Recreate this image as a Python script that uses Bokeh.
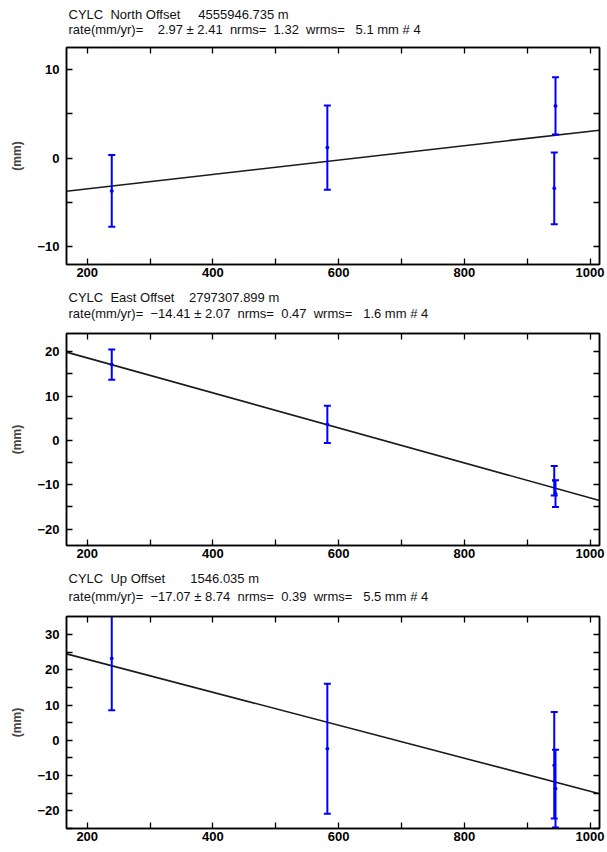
from bokeh.plotting import figure
from bokeh.layouts import column
from bokeh.models import Range1d, LinearAxis, FixedTicker
from bokeh.core.properties import value
from bokeh.embed import file_html
from bokeh.resources import INLINE

NB = "\u00a0"

# ---------------- data ----------------
title_line1 = ["CYLC  North Offset     4555946.735 m",
               "CYLC  East Offset    2797307.899 m",
               "CYLC  Up Offset       1546.035 m"]
rates = [2.97, -14.41, -17.07]          # mm/yr
rate_sig = [2.41, 2.07, 8.74]
nrms = [1.32, 0.47, 0.39]
wrms = [5.1, 1.6, 5.5]
n_obs = [4, 4, 4]
fit_at_600 = [-0.21, 2.82, 4.27]        # fitted value (mm) at day 600

days_north = [239, 582, 945, 943]
north_mm = [-3.7, 1.2, 5.9, -3.4]
north_sig = [4.05, 4.75, 3.23, 4.05]

days_east = [239, 582, 943, 945]
east_mm = [17.1, 3.6, -9.1, -12.0]
east_sig = [3.4, 4.2, 3.3, 3.0]

days_up = [239, 582, 943, 945]
up_mm = [23.2, -2.4, -7.1, -13.7]
up_sig = [14.7, 18.4, 15.1, 11.0]

x_ticks = [200, 400, 600, 800, 1000]
x_minor = [300, 500, 700, 900]
x_lo, x_hi = 167, 1015
y_lo = [-12.0, -23.7, -25.0]
y_hi = [12.5, 24.1, 35.1]
y_ticks = [[-10, 0, 10], [-20, -10, 0, 10, 20], [-20, -10, 0, 10, 20, 30]]
y_minor = [[-5, 5], [-15, -5, 5, 15], [-25, -15, -5, 5, 15, 25]]

series = [(days_north, north_mm, north_sig),
          (days_east, east_mm, east_sig),
          (days_up, up_mm, up_sig)]

# layout per panel: header height, header line y (px from header bottom),
# plot height, plot border top, plot border bottom
geom = [(40, (26, 11), 245, 7, 21),
        (41, (29, 13), 241, 7, 22),
        (42, (31, 13), 243, 7, 24)]

FONT = "Liberation Sans"
BLUE = "#0000ff"


def nb(s):
    return s.replace(" ", NB)


def style_axis(ax, show_labels):
    ax.major_tick_in = 6
    ax.major_tick_out = 0
    ax.minor_tick_in = 6
    ax.minor_tick_out = 0
    ax.axis_line_color = "black"
    ax.axis_line_width = 1.5
    ax.major_tick_line_color = "black"
    ax.minor_tick_line_color = "black"
    ax.major_tick_line_width = 1.3
    ax.minor_tick_line_width = 1.3
    ax.major_label_text_font = FONT
    ax.major_label_text_font_style = "bold"
    if show_labels:
        ax.major_label_text_color = "black"
        ax.major_label_text_font_size = "13px"
    else:
        ax.major_label_text_color = None
        ax.major_label_text_font_size = "0px"
        ax.major_label_standoff = 0


items = []
for i in range(3):
    xs, ys, sg = series[i]
    hh, ly, h, bt, bb = geom[i]

    # ---- header with the two title lines (frame aligned with the plot's) ----
    line2 = "rate(mm/yr)= %7.2f ± %.2f  nrms= %5.2f  wrms= %5.1f mm # %d" % (
        rates[i], rate_sig[i], nrms[i], wrms[i], n_obs[i])
    line2 = line2.replace("-", "\u2212")
    hd = figure(width=607, height=hh, x_range=Range1d(x_lo, x_hi),
                y_range=Range1d(0, hh), x_axis_type=None, y_axis_type=None,
                output_backend="svg", toolbar_location=None,
                min_border_left=66, min_border_right=8,
                min_border_top=0, min_border_bottom=0,
                outline_line_color=None,
                background_fill_color="white", border_fill_color="white")
    hd.grid.visible = False
    hd.text(x=[x_lo, x_lo], y=list(ly), text=[nb(title_line1[i]), nb(line2)],
            x_offset=2, text_font=value(FONT), text_font_size="13px",
            text_color="#111111", text_align="left", text_baseline="middle")
    items.append(hd)

    # ---- the plot itself ----
    p = figure(width=607, height=h,
               x_range=Range1d(x_lo, x_hi), y_range=Range1d(y_lo[i], y_hi[i]),
               output_backend="svg", toolbar_location=None,
               min_border_left=66, min_border_right=8,
               min_border_top=bt, min_border_bottom=bb,
               background_fill_color="white", border_fill_color="white",
               outline_line_color="black", outline_line_width=1.5)
    p.grid.visible = False

    xt = FixedTicker(ticks=x_ticks, minor_ticks=x_minor)
    yt = FixedTicker(ticks=y_ticks[i], minor_ticks=y_minor[i])

    p.xaxis.ticker = xt
    p.yaxis.ticker = yt
    for ax in p.xaxis:
        style_axis(ax, True)
        ax.major_label_standoff = 3
    for ax in p.yaxis:
        style_axis(ax, True)
        ax.major_label_standoff = 7
        ax.axis_label = "(mm)"
        ax.axis_label_text_font = FONT
        ax.axis_label_text_font_style = "bold"
        ax.axis_label_text_font_size = "12px"
        ax.axis_label_standoff = 10

    top_ax = LinearAxis(ticker=xt)
    style_axis(top_ax, False)
    right_ax = LinearAxis(ticker=yt)
    style_axis(right_ax, False)
    p.add_layout(top_ax, "above")
    p.add_layout(right_ax, "right")

    # fitted line
    fx = [x_lo, x_hi]
    fy = [fit_at_600[i] + rates[i] / 365.25 * (x - 600) for x in fx]
    p.line(fx, fy, line_color="#1a1a1a", line_width=1.6)

    # error bars
    lo = [y - s for y, s in zip(ys, sg)]
    hi = [y + s for y, s in zip(ys, sg)]
    p.segment(x0=xs, y0=lo, x1=xs, y1=hi, line_color=BLUE, line_width=2)
    p.scatter(x=xs + xs, y=lo + hi, marker="dash", size=7,
              line_color=BLUE, line_width=2)
    p.scatter(x=xs, y=ys, marker="circle", size=3,
              line_color=BLUE, fill_color=BLUE)

    items.append(p)

layout = column(*items, spacing=0)
open("out.html", "w").write(file_html(layout, INLINE))
